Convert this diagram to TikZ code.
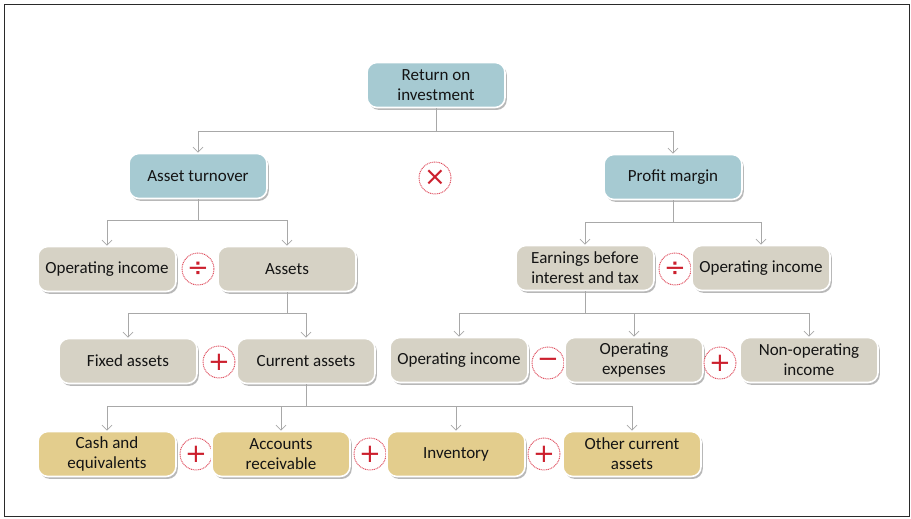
\documentclass[tikz,border=0pt]{standalone}
\usepackage{fontspec}
\setmainfont{Carlito}
\newfontfamily\opfont{DejaVu Sans}
\usetikzlibrary{arrows.meta,shadows}
\definecolor{boxblue}{HTML}{A6CAD2}
\definecolor{boxgray}{HTML}{D6D2C5}
\definecolor{boxgold}{HTML}{E3CD8D}
\definecolor{linkgray}{HTML}{A8A8A8}
\definecolor{opred}{HTML}{CC1F2D}
\definecolor{ringred}{HTML}{DD4455}
\definecolor{inkdark}{HTML}{141414}
\definecolor{framedark}{HTML}{2A2A2A}
\begin{document}
\begin{tikzpicture}[x=1pt,y=-1pt,
  box/.style={rounded corners=10pt, minimum width=138pt, minimum height=45pt,
    align=center, draw=white, line width=1.6pt, text=inkdark,
    font=\fontsize{17}{20}\selectfont,
    drop shadow={shadow xshift=1.8pt,shadow yshift=-2.4pt,fill=black,opacity=0.28}},
  topbox/.style={box, fill=boxblue},
  midbox/.style={box, fill=boxgray},
  lowbox/.style={box, fill=boxgold},
  op/.style={circle, minimum size=32pt, inner sep=0pt, draw=ringred,
    line width=0.9pt, dash pattern=on 1pt off 0.8pt, fill=white,
    text=opred, font=\opfont\fontsize{26}{26}\selectfont},
  link/.style={draw=linkgray, line width=0.9pt},
  arr/.style={link, -{Straight Barb[length=5pt,width=10pt,line width=0.8pt]}},
]
\useasboundingbox (0,0) rectangle (911,519);
\draw[line width=1.8pt, draw=framedark] (4.5,4.5) rectangle (909.5,516.5);

% top level
\node[topbox] (roi) at (436,85) {Return on\\investment};
\node[topbox] (at) at (198,176) {Asset turnover};
\node[topbox] (pm) at (673,177) {Profit margin};
\node[op] (mul) at (435,178) {×};

% second level
\node[midbox] (oil) at (107,269) {Operating income};
\node[op] (divl) at (198,269) {÷};
\node[midbox] (as) at (287,269) {Assets};
\node[midbox] (ebit) at (585,268) {Earnings before\\interest and tax};
\node[op] (divr) at (675,269) {÷};
\node[midbox] (oir) at (761,268) {Operating income};

% third level
\node[midbox] (fa) at (128,361) {Fixed assets};
\node[op] (pl1) at (219,362) {+};
\node[midbox] (ca) at (306,361) {Current assets};
\node[midbox] (oi2) at (459,360) {Operating income};
\node[op] (mi) at (548,363) {−};
\node[midbox] (ox) at (634,360) {Operating\\expenses};
\node[op] (pl2) at (720,363) {+};
\node[midbox] (noi) at (809,360) {Non-operating\\income};

% current assets breakdown
\node[lowbox] (cash) at (107,454) {Cash and\\equivalents};
\node[op] (pl3) at (196,454) {+};
\node[lowbox] (ar) at (281,454) {Accounts\\receivable};
\node[op] (pl4) at (370,454) {+};
\node[lowbox] (inv) at (456,454) {Inventory};
\node[op] (pl5) at (544,454) {+};
\node[lowbox] (oca) at (632,454) {Other current\\assets};

% connectors
\draw[link] (roi.south) -- ++(0,23) coordinate (j0);
\draw[arr] (j0) -| (at.north);
\draw[arr] (j0) -| (pm.north);

\draw[link] (at.south) -- ++(0,21) coordinate (j1);
\draw[arr] (j1) -| (oil.north);
\draw[arr] (j1) -| (as.north);

\draw[link] (pm.south) -- ++(0,22) coordinate (j2);
\draw[arr] (j2) -| (ebit.north);
\draw[arr] (j2) -| (oir.north);

\draw[link] (as.south) -- ++(0,21) coordinate (j3);
\draw[arr] (j3) -| (fa.north);
\draw[arr] (j3) -| (ca.north);

\draw[link] (ebit.south) -- ++(0,22) coordinate (j4);
\draw[arr] (j4) -| (oi2.north);
\draw[arr] (j4) -| (ox.north);
\draw[arr] (j4) -| (noi.north);

\draw[link] (ca.south) -- ++(0,22) coordinate (j5);
\draw[arr] (j5) -| (cash.north);
\draw[arr] (j5) -| (ar.north);
\draw[arr] (j5) -| (inv.north);
\draw[arr] (j5) -| (oca.north);
\end{tikzpicture}
\end{document}
